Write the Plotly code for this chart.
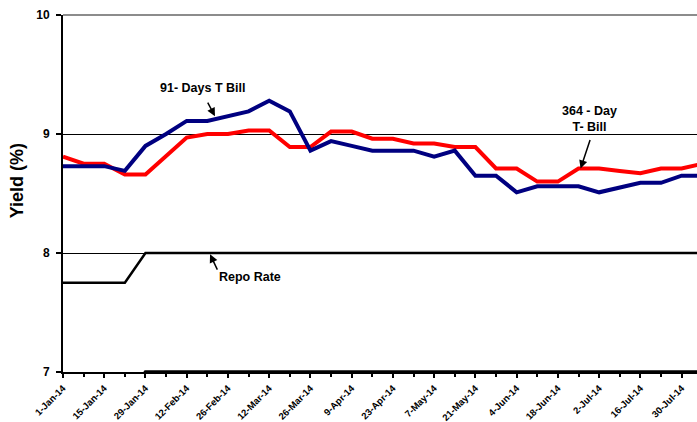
import pandas as pd
import plotly.graph_objects as go

# Weekly observation dates, 1-Jan-2014 onwards
dates = pd.date_range("2014-01-01", periods=32, freq="7D")

# 91-day T-Bill yield (%)
tbill_91 = [8.73, 8.73, 8.73, 8.69, 8.90, 9.00, 9.11, 9.11, 9.15, 9.19,
            9.28, 9.19, 8.86, 8.94, 8.90, 8.86, 8.86, 8.86, 8.81, 8.86,
            8.65, 8.65, 8.51, 8.56, 8.56, 8.56, 8.51, 8.55, 8.59, 8.59,
            8.65, 8.65]

# 364-day T-Bill yield (%)
tbill_364 = [8.81, 8.75, 8.75, 8.66, 8.66, 8.81, 8.97, 9.00, 9.00, 9.03,
             9.03, 8.89, 8.89, 9.02, 9.02, 8.96, 8.96, 8.92, 8.92, 8.89,
             8.89, 8.71, 8.71, 8.60, 8.60, 8.71, 8.71, 8.69, 8.67, 8.71,
             8.71, 8.75]

# Policy repo rate and reverse repo rate (%)
repo = [7.75] * 4 + [8.00] * 28
reverse_repo = [6.75] * 4 + [7.00] * 28

y_ticks = [7, 8, 9, 10]

FONT = "Liberation Sans, Arial, sans-serif"
DAY_MS = 86400000

fig = go.Figure()

fig.add_trace(go.Scatter(x=dates, y=reverse_repo, mode="lines",
                         line=dict(color="black", width=3.5),
                         showlegend=False, hoverinfo="skip"))
fig.add_trace(go.Scatter(x=dates, y=repo, mode="lines",
                         line=dict(color="black", width=2.5),
                         showlegend=False, hoverinfo="skip"))
fig.add_trace(go.Scatter(x=dates, y=tbill_364, mode="lines",
                         line=dict(color="#FF0000", width=4),
                         name="364 - Day T- Bill", showlegend=False))
fig.add_trace(go.Scatter(x=dates, y=tbill_91, mode="lines",
                         line=dict(color="#000080", width=4),
                         name="91- Days T Bill", showlegend=False))

# Text labels
label_font = dict(family=FONT, size=12.5, color="black", weight="bold")
fig.add_annotation(text="91- Days T Bill", xref="paper", yref="paper",
                   x=0.2208, y=0.7964, showarrow=False, font=label_font,
                   xanchor="center", yanchor="middle")
fig.add_annotation(text="364 - Day<br>T- Bill", xref="paper", yref="paper",
                   x=0.8312, y=0.709, showarrow=False, font=label_font,
                   xanchor="center", yanchor="middle")
fig.add_annotation(text="Repo Rate", xref="paper", yref="paper",
                   x=0.295, y=0.267, showarrow=False, font=label_font,
                   xanchor="center", yanchor="middle")

# Pointer arrows
arrow = dict(text="", showarrow=True, arrowhead=2, arrowsize=1.1,
             arrowwidth=1.5, arrowcolor="black", xref="x", yref="y")
fig.add_annotation(x="2014-02-21 14:00", y=9.15, ax=-8, ay=-15, **arrow)
fig.add_annotation(x="2014-06-25 17:00", y=8.71, ax=10, ay=-30, **arrow)
fig.add_annotation(x="2014-02-19 22:00", y=7.99, ax=8, ay=17, **arrow)

# Axis title
fig.add_annotation(text="Yield (%)", xref="paper", yref="paper",
                   x=-0.073, y=0.536, textangle=-90, showarrow=False,
                   font=dict(family=FONT, size=18, color="black", weight="bold"),
                   xanchor="center", yanchor="middle")

# Grey top border of the plot area
fig.add_shape(type="line", xref="paper", yref="paper", x0=0, x1=1, y0=1, y1=1,
              line=dict(color="#8C8C8C", width=2), layer="above")

fig.update_layout(
    width=697, height=422,
    margin=dict(l=63, r=0, t=15, b=50),
    paper_bgcolor="white", plot_bgcolor="white",
    font=dict(family=FONT, color="black"),
    showlegend=False,
    xaxis=dict(
        type="date",
        range=["2014-01-01", "2014-08-04 05:30"],
        tickmode="linear", tick0="2014-01-01", dtick=14 * DAY_MS,
        tickformat="%-d-%b-%y", tickangle=-45,
        tickfont=dict(family=FONT, size=9.5, color="black", weight="bold"),
        ticks="outside", ticklen=4, tickwidth=1.5, tickcolor="black",
        ticklabelstandoff=1,
        minor=dict(tick0="2014-01-01", dtick=7 * DAY_MS, ticks="outside",
                   ticklen=3, tickwidth=1.5, tickcolor="black"),
        showline=True, linecolor="black", linewidth=2,
        showgrid=False, zeroline=False, automargin=False,
    ),
    yaxis=dict(
        range=[7, 10], tickvals=y_ticks,
        tickfont=dict(family=FONT, size=12, color="black", weight="bold"),
        ticks="outside", ticklen=5, tickwidth=1.5, tickcolor="black",
        ticklabelstandoff=4,
        showline=True, linecolor="black", linewidth=2,
        showgrid=True, gridcolor="black", gridwidth=1,
        zeroline=False, automargin=False,
    ),
)

fig.write_html("out.html")
